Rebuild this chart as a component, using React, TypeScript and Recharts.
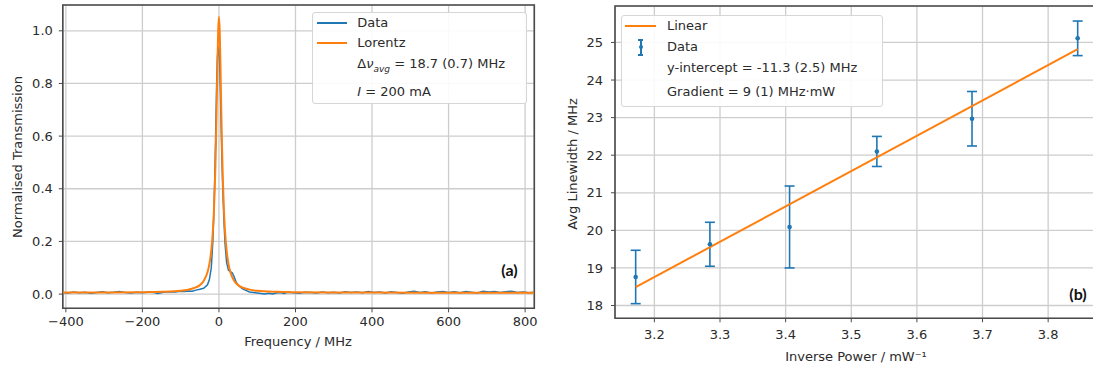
import {
  LineChart,
  ComposedChart,
  Line,
  Scatter,
  ErrorBar,
  XAxis,
  YAxis,
  CartesianGrid,
  ReferenceArea
} from 'recharts'

const BLUE = '#1f77b4'
const ORANGE = '#ff7f0e'
const GRID = '#cdcdcd'
const SPINE = '#4a4a4a'
const TEXT = '#2b2b2b'
const FONT = 'DejaVu Sans, sans-serif'

// (a) transmission spectrum
const specX = [
  -408, -395, -380, -365, -350, -335, -320, -305, -290, -275, -260, -245, -230, -215, -200, -185, -170, -160, -145, -130,
  -115, -100, -90, -80, -70, -60, -50, -40, -30, -25, -20, -16, -13, -10, -8, -6, -4, -2, 0, 2, 4, 6, 8, 10, 13, 16, 20,
  25, 30, 35, 40, 45, 50, 55, 60, 70, 80, 90, 100, 110, 120, 130, 140, 150, 160, 170, 180, 195, 210, 225, 240, 255, 270,
  285, 300, 315, 330, 345, 360, 375, 390, 405, 420, 435, 450, 465, 480, 495, 510, 525, 540, 555, 570, 585, 600, 615, 630,
  645, 660, 675, 690, 705, 720, 735, 750, 765, 780, 795, 810, 824
]
const specData = [
  0.006, 0.004, 0.008, 0.005, 0.007, 0.003, 0.006, 0.009, 0.005, 0.007, 0.010, 0.006, 0.004, 0.007, 0.005, 0.008, 0.006,
  0.002, 0.007, 0.009, 0.008, 0.011, 0.010, 0.012, 0.011, 0.015, 0.018, 0.022, 0.035, 0.055, 0.10, 0.20, 0.32, 0.50, 0.65,
  0.80, 0.90, 0.94, 0.93, 0.87, 0.76, 0.62, 0.50, 0.40, 0.28, 0.19, 0.12, 0.09, 0.085, 0.08, 0.065, 0.045, 0.035, 0.028,
  0.022, 0.014, 0.008, 0.006, 0.004, 0.002, 0.000, 0.003, 0.000, 0.004, 0.006, 0.002, 0.007, 0.005, 0.003, 0.007, 0.006,
  0.004, 0.008, 0.005, 0.007, 0.004, 0.009, 0.006, 0.008, 0.005, 0.010, 0.006, 0.008, 0.004, 0.009, 0.006, 0.003, 0.008,
  0.011, 0.006, 0.009, 0.004, 0.008, 0.010, 0.006, 0.009, 0.005, 0.010, 0.007, 0.004, 0.011, 0.008, 0.010, 0.006, 0.009,
  0.011, 0.006, 0.008, 0.005, 0.007
]

const fitX = [
  -408, -300, -200, -150, -100, -80, -65, -50, -40, -30, -25, -20, -16, -13, -10, -8, -6, -4, -2, 0, 2, 4, 6, 8, 10, 13,
  16, 20, 25, 30, 40, 50, 65, 80, 100, 150, 200, 300, 400, 600, 824
]
const fitY = [
  0.0056, 0.0059, 0.0069, 0.0084, 0.0125, 0.017, 0.023, 0.034, 0.05, 0.083, 0.114, 0.166, 0.236, 0.32, 0.445, 0.562,
  0.706, 0.865, 1.0, 1.053, 1.0, 0.865, 0.706, 0.562, 0.445, 0.32, 0.236, 0.166, 0.114, 0.083, 0.05, 0.034, 0.023, 0.017,
  0.0125, 0.0084, 0.0069, 0.0059, 0.0056, 0.0053, 0.0052
]

const freqTicks = [-400, -200, 0, 200, 400, 600, 800]
const transTicks = [0, 0.2, 0.4, 0.6, 0.8, 1.0]

// (b) linewidth vs inverse power
const invPower = [3.1715, 3.2846, 3.406, 3.539, 3.684, 3.845]
const linewidth = [18.76, 19.63, 20.09, 22.1, 22.97, 25.11]
const linewidthErr = [0.71, 0.585, 1.09, 0.4, 0.725, 0.46]
const linearX = [3.1715, 3.845]
const linearY = [18.49, 24.82]

const powerTicks = [3.2, 3.3, 3.4, 3.5, 3.6, 3.7, 3.8]
const widthTicks = [18, 19, 20, 21, 22, 23, 24, 25]

const specRows = specX.map((x, i) => ({ x, y: specData[i] }))
const fitRows = fitX.map((x, i) => ({ x, y: fitY[i] }))
const pointRows = invPower.map((x, i) => ({ x, y: linewidth[i], err: linewidthErr[i] }))
const linearRows = linearX.map((x, i) => ({ x, y: linearY[i] }))

const FREQ_DOMAIN = [-408, 824]
const TRANS_DOMAIN = [-0.054, 1.098]
const POWER_DOMAIN = [3.14, 3.879]
const WIDTH_DOMAIN = [17.66, 25.97]

const tickStyle = { fontSize: 13, fill: TEXT, fontFamily: FONT }

const minusFmt = (v: number) => (v < 0 ? `\u2212${Math.abs(v)}` : String(v))

function Dot(props: any) {
  return <circle cx={props.cx} cy={props.cy} r={2.3} fill={BLUE} />
}

function Text({ x, y, children, rotate, style }: any) {
  return (
    <div
      style={{
        position: 'absolute',
        left: x,
        top: y,
        transform: `translate(-50%, -50%)${rotate ? ' rotate(-90deg)' : ''}`,
        whiteSpace: 'nowrap',
        fontSize: 13,
        color: TEXT,
        fontFamily: FONT,
        ...style
      }}
    >
      {children}
    </div>
  )
}

function Row({ x, y, children }: any) {
  return (
    <div
      style={{
        position: 'absolute',
        left: x,
        top: y - 9,
        height: 18,
        lineHeight: '18px',
        whiteSpace: 'nowrap',
        fontSize: 13,
        color: TEXT,
        fontFamily: FONT
      }}
    >
      {children}
    </div>
  )
}

export default function App() {
  return (
    <div
      style={{
        position: 'absolute',
        left: 0,
        top: 0,
        width: 1093,
        height: 368,
        overflow: 'hidden',
        background: '#fff'
      }}
    >
      <div style={{ position: 'absolute', left: 0, top: 0 }}>
        <LineChart width={550} height={368} margin={{ top: 5, right: 15.7, bottom: 29.7, left: 0 }}>
          <CartesianGrid stroke={GRID} strokeWidth={1.3} />
          <XAxis
            type="number"
            dataKey="x"
            domain={FREQ_DOMAIN}
            ticks={freqTicks}
            allowDataOverflow
            height={30}
            axisLine={false}
            tickLine={{ stroke: SPINE }}
            tickSize={4}
            tickMargin={4}
            tick={tickStyle}
            tickFormatter={minusFmt}
          />
          <YAxis
            type="number"
            domain={TRANS_DOMAIN}
            ticks={transTicks}
            allowDataOverflow
            width={62.8}
            axisLine={false}
            tickLine={{ stroke: SPINE }}
            tickSize={4}
            tickMargin={6}
            tick={tickStyle}
            tickFormatter={(v: number) => v.toFixed(1)}
          />
          <Line
            data={specRows}
            dataKey="y"
            type="linear"
            stroke={BLUE}
            strokeWidth={1.5}
            dot={false}
            isAnimationActive={false}
          />
          <Line
            data={fitRows}
            dataKey="y"
            type="monotone"
            stroke={ORANGE}
            strokeWidth={2}
            dot={false}
            isAnimationActive={false}
          />
          <ReferenceArea
            x1={FREQ_DOMAIN[0]}
            x2={FREQ_DOMAIN[1]}
            y1={TRANS_DOMAIN[0]}
            y2={TRANS_DOMAIN[1]}
            fill="none"
            stroke={SPINE}
            strokeWidth={1.6}
            ifOverflow="visible"
          />
        </LineChart>
      </div>

      <div style={{ position: 'absolute', left: 550, top: 0 }}>
        <ComposedChart width={560} height={368} margin={{ top: 6, right: 10, bottom: 19.7, left: 0 }}>
          <CartesianGrid stroke={GRID} strokeWidth={1.3} />
          <XAxis
            type="number"
            dataKey="x"
            domain={POWER_DOMAIN}
            ticks={powerTicks}
            allowDataOverflow
            height={30}
            axisLine={false}
            tickLine={{ stroke: SPINE }}
            tickSize={4}
            tickMargin={7}
            tick={tickStyle}
            tickFormatter={(v: number) => v.toFixed(1)}
          />
          <YAxis
            type="number"
            dataKey="y"
            domain={WIDTH_DOMAIN}
            ticks={widthTicks}
            allowDataOverflow
            width={65}
            axisLine={false}
            tickLine={{ stroke: SPINE }}
            tickSize={4}
            tickMargin={8}
            tick={tickStyle}
          />
          <Scatter data={pointRows} dataKey="y" shape={<Dot />} isAnimationActive={false}>
            <ErrorBar dataKey="err" direction="y" width={5} stroke={BLUE} strokeWidth={1.6} isAnimationActive={false} />
          </Scatter>
          <Line
            data={linearRows}
            dataKey="y"
            type="linear"
            stroke={ORANGE}
            strokeWidth={2}
            dot={false}
            isAnimationActive={false}
          />
          <ReferenceArea
            x1={POWER_DOMAIN[0]}
            x2={POWER_DOMAIN[1]}
            y1={WIDTH_DOMAIN[0]}
            y2={WIDTH_DOMAIN[1]}
            fill="none"
            stroke={SPINE}
            strokeWidth={1.6}
            ifOverflow="visible"
          />
        </ComposedChart>
      </div>

      {/* axis titles */}
      <Text x={298} y={341}>Frequency / MHz</Text>
      <Text x={16.5} y={157} rotate>Normalised Transmission</Text>
      <Text x={572} y={164} rotate>Avg Linewidth / MHz</Text>
      <Text x={856} y={356}>Inverse Power / mW{'\u207B\u00B9'}</Text>
      <Text x={509.5} y={269} style={{ fontFamily: 'Lato, sans-serif', fontWeight: 700, fontSize: 16, color: '#111' }}>
        (a)
      </Text>
      <Text x={1078} y={293} style={{ fontFamily: 'Lato, sans-serif', fontWeight: 700, fontSize: 16, color: '#111' }}>
        (b)
      </Text>

      {/* legend (a) */}
      <div
        style={{
          position: 'absolute',
          left: 311.7,
          top: 11.7,
          width: 215,
          height: 92.6,
          boxSizing: 'border-box',
          border: '1px solid #d6d6d6',
          borderRadius: 3,
          background: 'rgba(255,255,255,0.9)'
        }}
      />
      <div style={{ position: 'absolute', left: 317, top: 21.7, width: 30, height: 2, background: BLUE }} />
      <div style={{ position: 'absolute', left: 317, top: 41.7, width: 30, height: 2, background: ORANGE }} />
      <Row x={357.3} y={22.7}>Data</Row>
      <Row x={357.3} y={42.7}>Lorentz</Row>
      <Row x={357.3} y={64}>
        Δ<i>ν</i>
        <sub style={{ fontSize: 9 }}>
          <i>avg</i>
        </sub>{' '}
        = 18.7 (0.7) MHz
      </Row>
      <Row x={357.3} y={91.7}>
        <i>I</i> = 200 mA
      </Row>

      {/* legend (b) */}
      <div
        style={{
          position: 'absolute',
          left: 621.4,
          top: 14.7,
          width: 261.6,
          height: 92,
          boxSizing: 'border-box',
          border: '1px solid #d6d6d6',
          borderRadius: 3,
          background: 'rgba(255,255,255,0.9)'
        }}
      />
      <div style={{ position: 'absolute', left: 624.5, top: 25, width: 31, height: 2, background: ORANGE }} />
      <div style={{ position: 'absolute', left: 640, top: 39.5, width: 1.6, height: 15, background: BLUE }} />
      <div style={{ position: 'absolute', left: 638.3, top: 39, width: 5, height: 1.5, background: BLUE }} />
      <div style={{ position: 'absolute', left: 638.3, top: 54, width: 5, height: 1.5, background: BLUE }} />
      <div
        style={{ position: 'absolute', left: 638.5, top: 44.5, width: 4.6, height: 4.6, borderRadius: '50%', background: BLUE }}
      />
      <Row x={667} y={26}>Linear</Row>
      <Row x={667} y={46.7}>Data</Row>
      <Row x={667} y={68.3}>y-intercept = -11.3 (2.5) MHz</Row>
      <Row x={667} y={92.3}>Gradient = 9 (1) MHz·mW</Row>
    </div>
  )
}
